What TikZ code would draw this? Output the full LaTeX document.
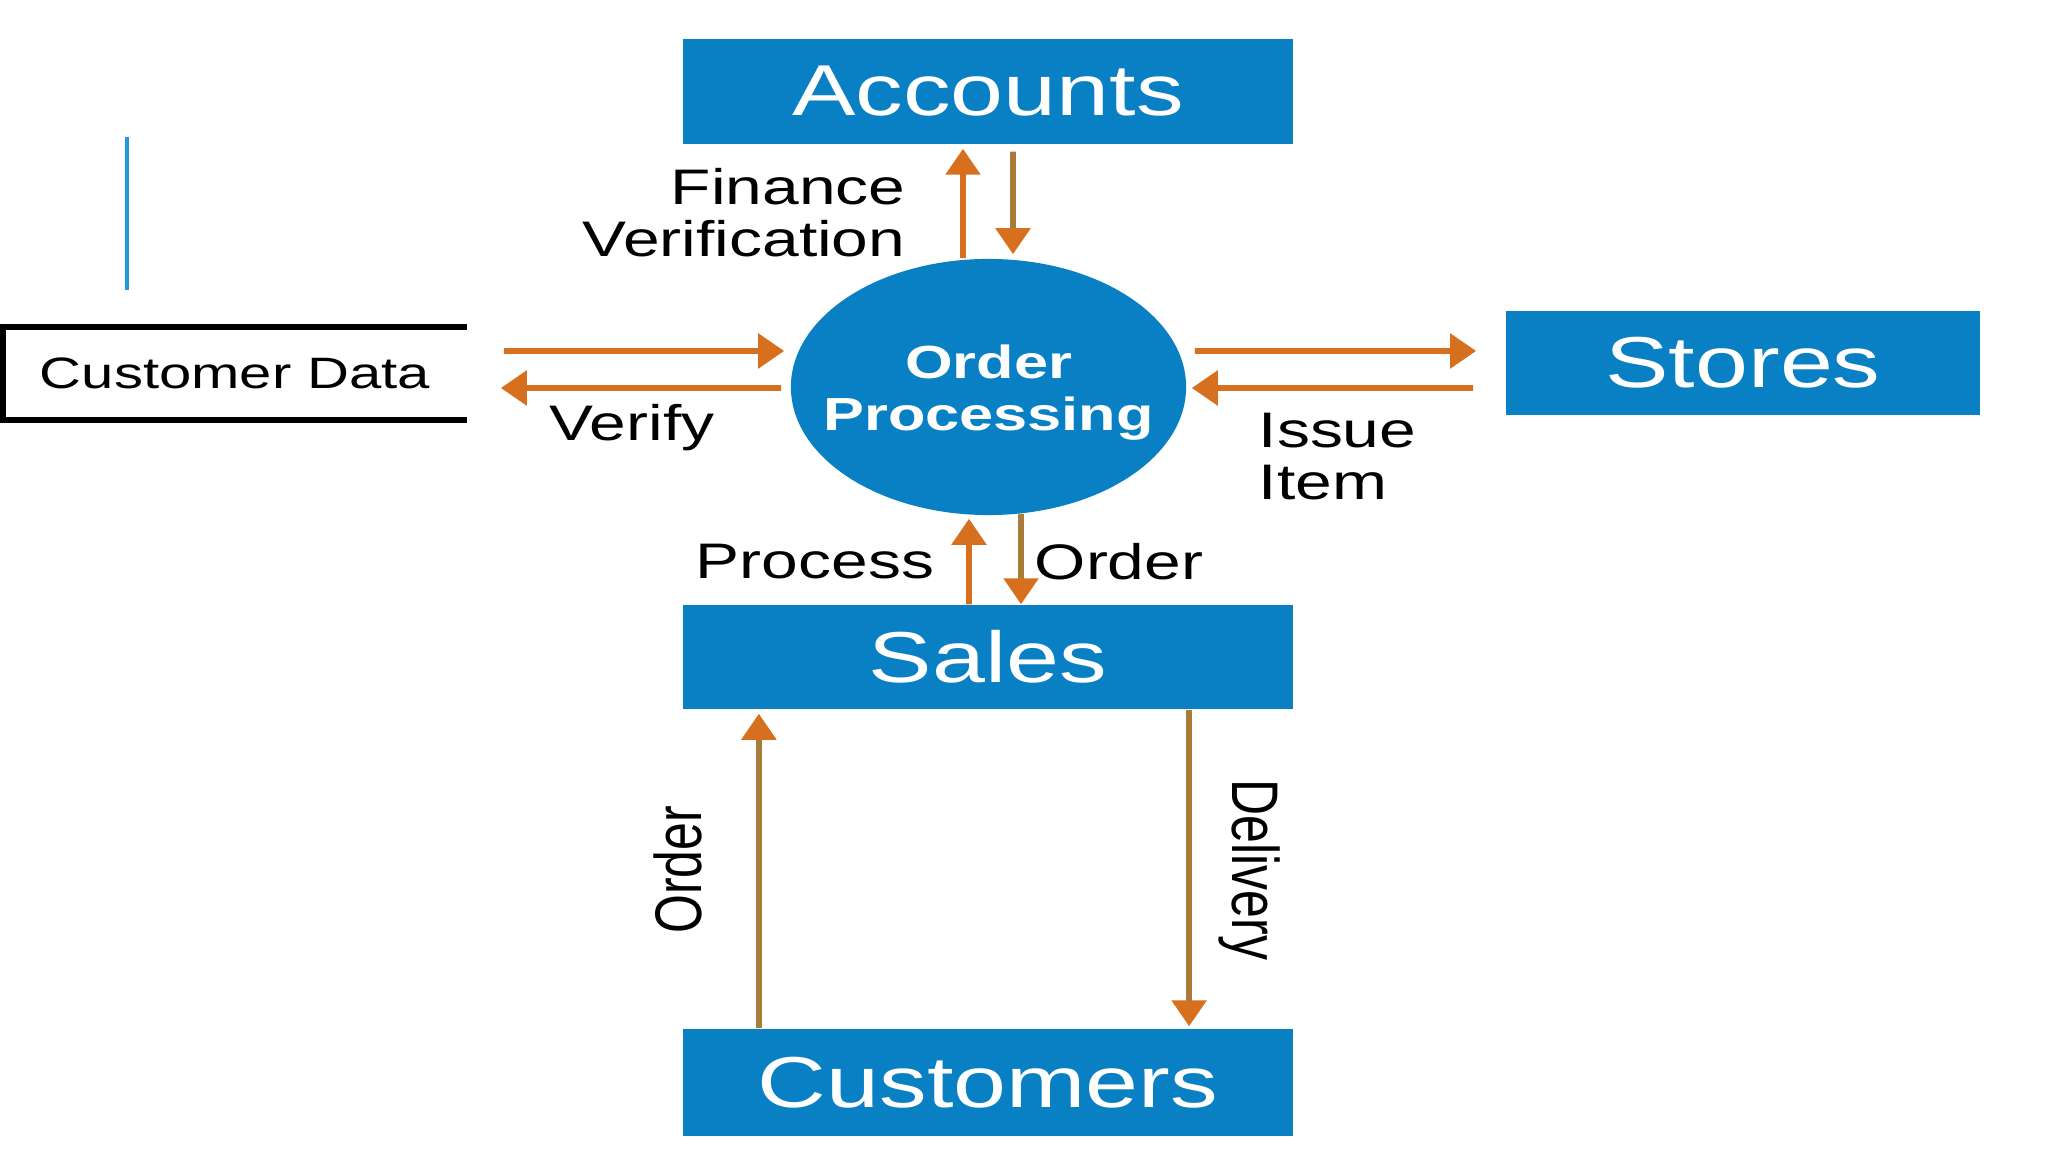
\documentclass[tikz,border=0pt]{standalone}
\usepackage{fontspec}
\setmainfont{Liberation Sans}
\usepackage{graphicx}
\usetikzlibrary{arrows.meta,shapes.geometric}
\definecolor{boxblue}{RGB}{10,128,196}
\definecolor{arrorange}{RGB}{214,112,30}
\definecolor{arrbrown}{RGB}{168,124,58}
\definecolor{lineblue}{RGB}{30,155,220}
\newcommand{\wtxt}[1]{\scalebox{1.32}[1]{#1}}
\begin{document}
\begin{tikzpicture}[x=0.01cm,y=-0.01cm,
  bluebox/.style={rectangle, fill=boxblue, text=white, inner sep=0pt, font=\fontsize{20.5}{24}\selectfont},
  arrO/.style={draw=arrorange, line width=1.6pt, -{Triangle[length=0.26cm,width=0.34cm,color=arrorange]}},
  arrB/.style={draw=arrbrown, line width=1.6pt, -{Triangle[length=0.26cm,width=0.34cm,color=arrorange]}},
  lbl/.style={font=\fontsize{14.2}{14.8}\selectfont, inner sep=0pt}]
\useasboundingbox[fill=white] (0,0) rectangle (2048,1152);

% stray blue line
\draw[lineblue, line width=0.9pt] (127,137) -- (127,290);

% boxes
\node[bluebox, minimum width=6.1cm, minimum height=1.05cm] (acc) at (988,91.5) {\wtxt{Accounts}};
\node[bluebox, minimum width=4.74cm, minimum height=1.04cm] (sto) at (1743,363) {\wtxt{Stores}};
\node[bluebox, minimum width=6.1cm, minimum height=1.04cm] (sal) at (988,657) {\wtxt{Sales}};
\node[bluebox, minimum width=6.1cm, minimum height=1.07cm] (cus) at (988,1082.5) {\wtxt{Customers}};
\node[ellipse, fill=boxblue, minimum width=3.95cm, minimum height=2.56cm, inner sep=0pt] (ell) at (988.5,387) {};
\node[inner sep=0pt, text=white, align=center, font=\bfseries\fontsize{13.2}{14.8}\selectfont] (elltxt) at (988.5,393) {\wtxt{Order}\\\wtxt{Processing}};

% customer data store
\node[minimum width=4.62cm, minimum height=0.91cm, inner sep=0pt, font=\fontsize{12.5}{14}\selectfont] (cd) at (235,373.5) {\wtxt{Customer Data}};
\draw[line width=1.7pt] (cd.north east) -- (cd.north west) -- (cd.south west) -- (cd.south east);

% arrows
\draw[arrO] ([xshift=-0.255cm]ell.north) -- ([xshift=-0.25cm,yshift=-0.04cm]acc.south);
\draw[arrB] ([xshift=0.25cm,yshift=-0.07cm]acc.south) -- ([xshift=0.245cm,yshift=0.04cm]ell.north);
\draw[arrO] ([xshift=0.37cm,yshift=0.225cm]cd.east) -- ([xshift=-0.06cm,yshift=0.36cm]ell.west);
\draw[arrO] ([xshift=-0.09cm,yshift=-0.01cm]ell.west) -- ([xshift=0.34cm,yshift=-0.145cm]cd.east);
\draw[arrO] ([xshift=0.08cm,yshift=0.36cm]ell.east) -- ([xshift=-0.29cm,yshift=0.12cm]sto.west);
\draw[arrO] ([xshift=-0.32cm,yshift=-0.25cm]sto.west) -- ([xshift=0.05cm,yshift=-0.01cm]ell.east);
\draw[arrO] ([xshift=-0.19cm]sal.north) -- ([xshift=-0.195cm,yshift=-0.03cm]ell.south);
\draw[arrB] ([xshift=0.325cm,yshift=0.02cm]ell.south) -- ([xshift=0.33cm]sal.north);
\draw[arrB] ([xshift=-2.29cm]cus.north) -- ([xshift=-2.29cm,yshift=-0.04cm]sal.south);
\draw[arrB] ([xshift=2.01cm]sal.south) -- ([xshift=2.01cm,yshift=0.02cm]cus.north);

% labels
\node[lbl, anchor=east, align=right] (lfin) at (906,213) {\wtxt{Finance}\\\wtxt{Verification}};
\node[lbl] (lver) at (632,428) {\wtxt{Verify}};
\node[lbl, anchor=west, align=left] (liss) at (1258,456.5) {\wtxt{Issue}\\\wtxt{Item}};
\node[lbl] (lpro) at (815,562) {\wtxt{Process}};
\node[lbl] (lord) at (1119,562) {\wtxt{Order}};
\node[lbl] (lord2) at (678,870) {\scalebox{1.32}[1]{\rotatebox{90}{Order}}};
\node[lbl] (ldel) at (1250,870) {\scalebox{1.32}[1]{\rotatebox{-90}{Delivery}}};
\end{tikzpicture}
\end{document}
